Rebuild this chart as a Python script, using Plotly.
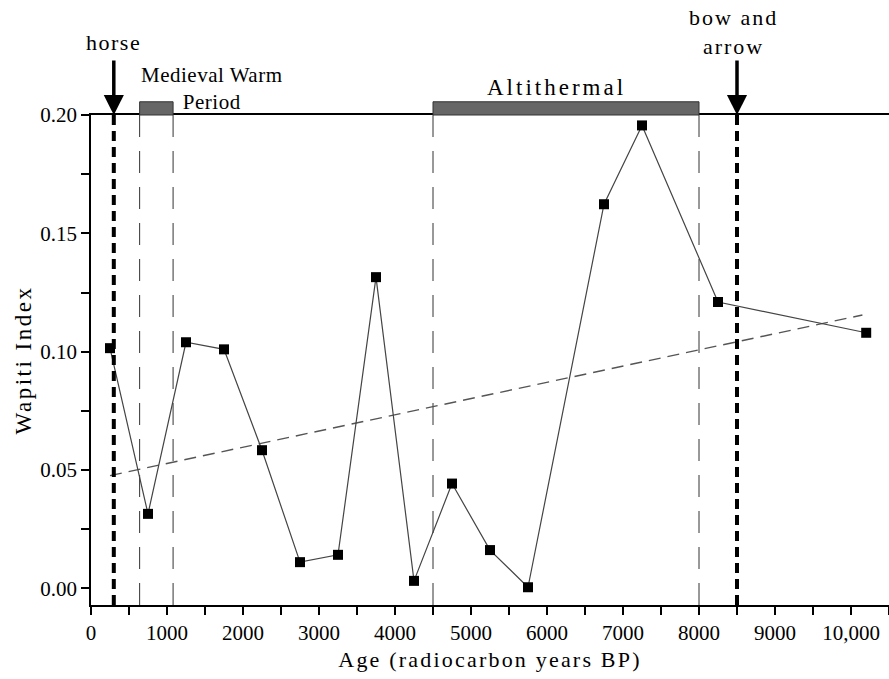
import numpy as np
import plotly.graph_objects as go

# ---- data ----
age = [250, 750, 1250, 1750, 2250, 2750, 3250, 3750, 4250, 4750, 5250, 5750, 6750, 7250, 8250, 10200]
wapiti = [0.1015, 0.0315, 0.104, 0.101, 0.0584, 0.0111, 0.0142, 0.1315, 0.0032, 0.0443, 0.0162, 0.0005,
          0.1623, 0.1956, 0.121, 0.108]

x_tickvals = [0, 1000, 2000, 3000, 4000, 5000, 6000, 7000, 8000, 9000, 10000]
x_ticktext = ["0", "1000", "2000", "3000", "4000", "5000", "6000", "7000", "8000", "9000", "10,000"]
y_tickvals = [0.0, 0.05, 0.10, 0.15, 0.20]
y_ticktext = ["0.00", "0.05", "0.10", "0.15", "0.20"]

events = [["horse"], ["bow and", "arrow"]]
event_age = [300, 8500]
event_label_x = [300, 8450]

periods = [["Medieval Warm", "Period"], ["Altithermal"]]
period_start = [640, 4500]
period_end = [1080, 8000]
period_label_x = [1590, 6130]

X_RANGE = [0, 10500]
Y_RANGE = [-0.007, 0.2]

FONT = "Liberation Serif"


def spaced(lines, px):
    return "<br>".join('<span style="letter-spacing:%spx">%s</span>' % (px, ln) for ln in lines)


# ---- trend (least squares on the data) ----
slope, intercept = np.polyfit(age, wapiti, 1)
trend_x = [min(age), max(age) - 50]
trend_y = [slope * v + intercept for v in trend_x]

fig = go.Figure()

# period boundaries (thin long-dashed) and bars
for s, e in zip(period_start, period_end):
    for xv in (s, e):
        fig.add_shape(type="line", xref="x", yref="y", x0=xv, x1=xv, y0=Y_RANGE[0], y1=Y_RANGE[1],
                      line=dict(color="#333333", width=1, dash="22px,14px"), layer="below")
    fig.add_shape(type="rect", xref="x", yref="paper", x0=s, x1=e, y0=1.0, y1=1.027,
                  fillcolor="#666666", line=dict(color="#333333", width=1))

# event lines (thick dashed)
for xv in event_age:
    fig.add_shape(type="line", xref="x", yref="y", x0=xv, x1=xv, y0=Y_RANGE[0], y1=Y_RANGE[1],
                  line=dict(color="black", width=4, dash="10px,6px"), layer="above")

fig.add_trace(go.Scatter(x=trend_x, y=trend_y, mode="lines",
                         line=dict(color="#555555", width=1.4, dash="12px,7px"),
                         showlegend=False, hoverinfo="skip"))

fig.add_trace(go.Scatter(x=age, y=wapiti, mode="lines+markers",
                         line=dict(color="#444444", width=1.2),
                         marker=dict(symbol="square", size=10, color="black"),
                         showlegend=False, cliponaxis=False))

annotations = []
for xv in event_age:
    annotations.append(dict(x=xv, y=Y_RANGE[1], xref="x", yref="y", text="", showarrow=True,
                            ax=0, ay=-56, axref="pixel", ayref="pixel",
                            arrowhead=2, arrowsize=1.15, arrowwidth=3.5, arrowcolor="black", standoff=0))
txtfont = dict(family=FONT, size=22, color="black")
annotations.append(dict(x=event_label_x[0], y=1.147, xref="x", yref="paper", text=spaced(events[0], 1.5),
                        showarrow=False, font=txtfont, xanchor="center", yanchor="middle"))
annotations.append(dict(x=event_label_x[1], y=1.17, xref="x", yref="paper", text=spaced(events[1], 2),
                        showarrow=False, font=txtfont, xanchor="center", yanchor="middle"))
annotations.append(dict(x=period_label_x[0], y=1.054, xref="x", yref="paper", text=spaced(periods[0], 0.5),
                        showarrow=False, font=dict(family=FONT, size=21, color="black"),
                        xanchor="center", yanchor="middle"))
annotations.append(dict(x=period_label_x[1], y=1.057, xref="x", yref="paper", text=spaced(periods[1], 3),
                        showarrow=False, font=dict(family=FONT, size=23, color="black"),
                        xanchor="center", yanchor="middle"))

fig.update_layout(
    width=889, height=679,
    margin=dict(l=91, r=0, t=115, b=74),
    paper_bgcolor="white", plot_bgcolor="white",
    font=dict(family=FONT, size=21, color="black"),
    annotations=annotations,
    xaxis=dict(range=X_RANGE, tickmode="array", tickvals=x_tickvals, ticktext=x_ticktext,
               ticks="outside", ticklen=8, tickwidth=1.5, tickcolor="black",
               showline=True, linecolor="black", linewidth=1.5, mirror=True,
               showgrid=False, zeroline=False,
               minor=dict(tickmode="linear", tick0=0, dtick=500, ticks="outside", ticklen=8,
                          tickwidth=1.5, tickcolor="black", showgrid=False),
               tickfont=dict(family=FONT, size=21, color="black"),
               title=dict(text=spaced(["Age (radiocarbon years BP)"], 2.2), standoff=8,
                          font=dict(family=FONT, size=22, color="black"))),
    yaxis=dict(range=Y_RANGE, tickmode="array", tickvals=y_tickvals, ticktext=y_ticktext,
               ticks="outside", ticklen=8, tickwidth=1.5, tickcolor="black",
               showline=True, linecolor="black", linewidth=1.5, mirror=False,
               showgrid=False, zeroline=False,
               minor=dict(tickmode="linear", tick0=0, dtick=0.025, ticks="outside", ticklen=8,
                          tickwidth=1.5, tickcolor="black", showgrid=False),
               tickfont=dict(family=FONT, size=21, color="black"),
               title=dict(text=spaced(["Wapiti Index"], 2.5), standoff=2,
                          font=dict(family=FONT, size=23, color="black"))),
)

fig.write_html("out.html")
